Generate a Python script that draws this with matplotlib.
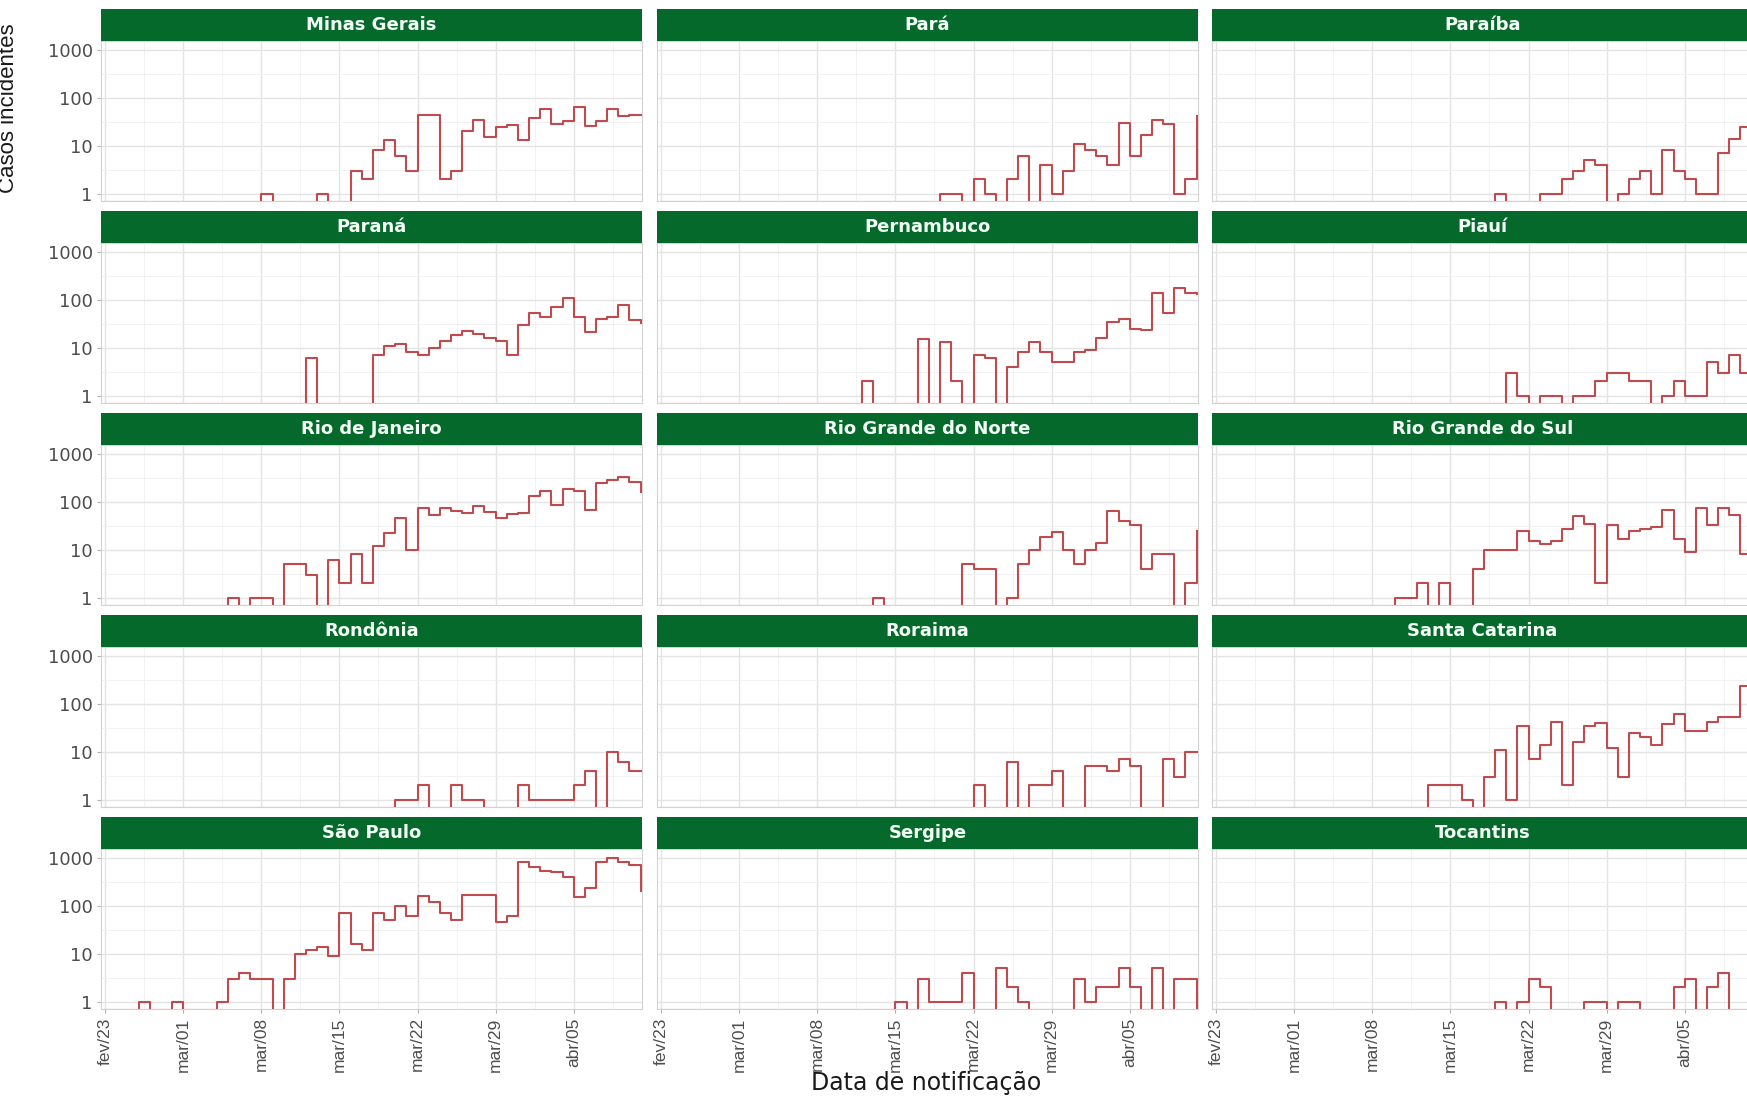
import numpy as np
import pandas as pd
import matplotlib
matplotlib.use("Agg")
import matplotlib.pyplot as plt
from matplotlib.ticker import FixedLocator, NullFormatter

plt.rcParams['font.family'] = ['Liberation Sans', 'DejaVu Sans']

# Estados (ordem dos paineis) e datas de notificacao
estados = ["Minas Gerais", "Pará", "Paraíba",
           "Paraná", "Pernambuco", "Piauí",
           "Rio de Janeiro", "Rio Grande do Norte", "Rio Grande do Sul",
           "Rondônia", "Roraima", "Santa Catarina",
           "São Paulo", "Sergipe", "Tocantins"]

datas = pd.date_range("2020-02-23", periods=49, freq="D")
rotulos_x = ["fev/23", "mar/01", "mar/08", "mar/15", "mar/22", "mar/29", "abr/05"]
rotulos_y = ["1", "10", "100", "1000"]

# Casos incidentes diarios, de 23/fev a 12/abr
minas_gerais = [0]*14 + [1] + [0]*4 + [1, 0, 0] + \
    [3, 2, 8, 13, 6, 3, 44, 44, 2, 3, 20, 34, 15, 24, 27, 13, 37, 57, 28, 33, 65, 26, 33, 57, 42, 44, 44]
para = [0]*25 + [1, 1, 0, 2, 1, 0, 2, 6, 0, 4, 1, 3, 11, 8, 6, 4, 30, 6, 17, 35, 28, 1, 2, 42]
paraiba = [0]*25 + [1, 0, 0, 0, 1, 1, 2, 3, 5, 4, 0, 1, 2, 3, 1, 8, 3, 2, 1, 1, 7, 14, 25, 25]
parana = [0]*18 + [6] + [0]*5 + \
    [7, 11, 12, 8, 7, 10, 14, 18, 22, 19, 16, 14, 7, 29, 52, 44, 72, 108, 44, 21, 40, 44, 78, 37, 33]
pernambuco = [0]*18 + [2] + [0]*4 + \
    [15, 0, 13, 2, 0, 7, 6, 0, 4, 8, 13, 8, 5, 5, 8, 9, 16, 34, 40, 25, 23, 140, 52, 175, 140, 130]
piaui = [0]*26 + [3, 1, 0, 1, 1, 0, 1, 1, 2, 3, 3, 2, 2, 0, 1, 2, 1, 1, 5, 3, 7, 3, 3]
rio_de_janeiro = [0]*11 + [1, 0, 1, 1, 0, 5, 5, 3, 0, 6, 2, 8, 2, 12, 22, 45, 10, 73, 53, 75, 65, 57, 80,
                           62, 45, 55, 57, 130, 165, 85, 180, 165, 68, 250, 280, 320, 260, 160]
rio_grande_do_norte = [0]*19 + [1] + [0]*7 + \
    [5, 4, 4, 0, 1, 5, 10, 18, 23, 10, 5, 10, 14, 65, 40, 33, 4, 8, 8, 0, 2, 25]
rio_grande_do_sul = [0]*16 + [1, 1, 2, 0, 2, 0, 0, 4, 10, 10, 10, 24, 15, 13, 15, 27, 50, 35, 2, 32,
                              17, 24, 27, 30, 68, 17, 9, 74, 32, 74, 53, 8, 8]
rondonia = [0]*26 + [1, 1, 2, 0, 0, 2, 1, 1, 0, 0, 0, 2, 1, 1, 1, 1, 2, 4, 0, 10, 6, 4, 4]
roraima = [0]*28 + [2, 0, 0, 6, 0, 2, 2, 4, 0, 0, 5, 5, 4, 7, 5, 0, 0, 7, 3, 10, 10]
santa_catarina = [0]*19 + [2, 2, 2, 1, 0, 3, 11, 1, 34, 7, 14, 42, 2, 16, 34, 40, 12, 3, 25, 20, 14,
                           38, 60, 27, 27, 42, 52, 52, 230, 230]
sao_paulo = [0, 0, 0, 1, 0, 0, 1, 0, 0, 0, 1, 3, 4, 3, 3, 0, 3, 10, 12, 14, 9, 70, 16, 12, 70, 50,
             100, 60, 160, 120, 70, 50, 170, 170, 170, 45, 60, 800, 650, 530, 500, 400, 150, 230,
             800, 1000, 800, 700, 200]
sergipe = [0]*21 + [1, 0, 3, 1, 1, 1, 4, 0, 0, 5, 2, 1, 0, 0, 0, 0, 3, 1, 2, 2, 5, 2, 0, 5, 0, 3, 3, 0]
tocantins = [0]*25 + [1, 0, 1, 3, 2, 0, 0, 0, 1, 1, 0, 1, 1, 0, 0, 0, 2, 3, 0, 2, 4, 0, 0, 0]

casos = dict(zip(estados, [minas_gerais, para, paraiba, parana, pernambuco, piaui,
                           rio_de_janeiro, rio_grande_do_norte, rio_grande_do_sul,
                           rondonia, roraima, santa_catarina, sao_paulo, sergipe, tocantins]))

W, H = 1747, 1096
verde = "#05692C"
cor_linha = "#C04B4E"
y_min, y_max = 10**-0.152, 10**3.18
largo = ['DejaVu Sans']  # texto mais largo, como no original

fig = plt.figure(figsize=(W/100, H/100), dpi=100)
fig.patch.set_facecolor("white")

col_x = [101, 657, 1212]
lin_y = [9, 211, 413, 615, 817]
larg, alt_faixa, alt_painel = 541, 32, 160

maiores = list(datas[0:43:7])
menores = [d + pd.Timedelta(hours=84) for d in maiores]

for i, estado in enumerate(estados):
    r, c = divmod(i, 3)
    x0 = col_x[c] / W
    topo = lin_y[r]
    ax = fig.add_axes([x0, 1 - (topo + alt_faixa + alt_painel) / H, larg / W, alt_painel / H])
    sx = fig.add_axes([x0, 1 - (topo + alt_faixa) / H, larg / W, alt_faixa / H])

    # zeros (log = -Inf) ficam na borda inferior do painel
    y = np.array(casos[estado], dtype=float)
    y = np.where(y > 0, y, y_min / 1.03)
    ax.plot(datas, y, drawstyle="steps-post", color=cor_linha, lw=1.5, zorder=3)

    ax.set_yscale("log")
    ax.set_ylim(y_min, y_max)
    ax.set_xlim(datas[0] - pd.Timedelta(hours=9), datas[-1] + pd.Timedelta(hours=3))
    ax.set_yticks([1, 10, 100, 1000])
    ax.set_yticklabels(rotulos_y, family=largo)
    ax.yaxis.set_minor_locator(FixedLocator([10**0.5, 10**1.5, 10**2.5]))
    ax.yaxis.set_minor_formatter(NullFormatter())
    ax.set_xticks(maiores)
    ax.set_xticks(menores, minor=True)
    ax.set_xticklabels(rotulos_x, rotation=90)

    ax.grid(which="major", color="#E4E4E4", lw=1.0)
    ax.grid(which="minor", color="#F0F0F0", lw=0.6)
    ax.set_axisbelow(True)
    for s in ax.spines.values():
        s.set_color("#D3D3D3")
        s.set_linewidth(0.8)

    ax.tick_params(which="minor", length=0)
    ax.tick_params(which="major", length=3, color="#B3B3B3", labelsize=12.5,
                   labelcolor="#4D4D4D", pad=3,
                   labelleft=(c == 0), labelbottom=(r == 4),
                   left=(c == 0), bottom=(r == 4))
    ax.tick_params(axis="y", labelsize=13)

    sx.set_facecolor(verde)
    sx.set_xticks([])
    sx.set_yticks([])
    for s in sx.spines.values():
        s.set_visible(False)
    sx.text(0.5, 0.5, estado, ha="center", va="center", color="#F4FFF6",
            fontsize=13, fontweight="bold", family=largo, transform=sx.transAxes)

fig.text(926 / W, 1 - 1083 / H, "Data de notificação", ha="center", va="center",
         fontsize=17, color="#1A1A1A", family=largo)
fig.text(9 / W, 1 - 108 / H, "Casos incidentes", rotation=90, ha="center", va="center",
         fontsize=16, color="#1A1A1A")

fig.savefig("out.png", dpi=100)
